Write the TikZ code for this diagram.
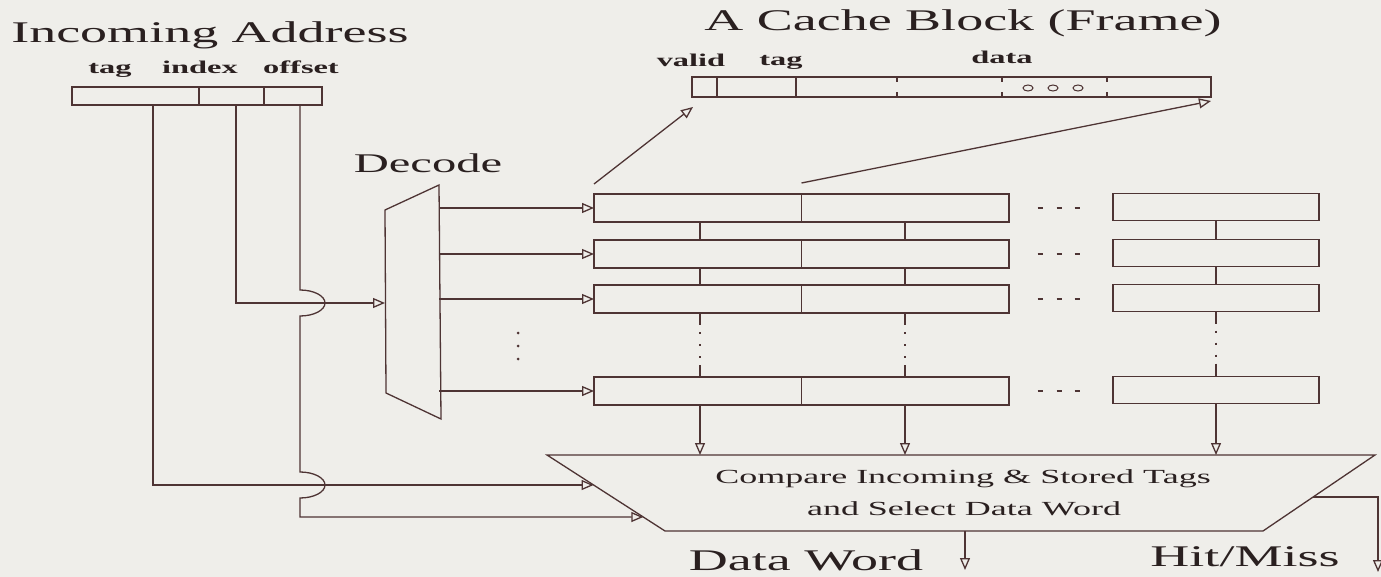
\documentclass[tikz,border=0pt]{standalone}
\usepackage{fontspec}
\setmainfont{Liberation Serif}[FakeStretch=1.8]
\usetikzlibrary{arrows.meta,calc}
\definecolor{bg}{HTML}{EFEEEA}
\definecolor{ln}{HTML}{4E3434}
\definecolor{tx}{HTML}{2A2020}
\begin{document}
\begin{tikzpicture}[x=1pt,y=-1pt,color=ln,line width=1.3pt,
  box/.style={draw=ln,inner sep=0pt,outer sep=0pt},
  rowbox/.style={box,minimum width=415pt,minimum height=28pt},
  rbox/.style={box,minimum width=206pt,minimum height=27pt},
  arr/.style={-{Triangle[open,length=12pt,width=10pt]}},
  lbl/.style={text=tx,inner sep=0pt,anchor=base},
  big/.style={lbl,font=\fontsize{30pt}{36pt}\selectfont},
  small/.style={lbl,font=\fontsize{18pt}{22pt}\selectfont\bfseries},
  cmptext/.style={lbl,font=\fontsize{20pt}{24pt}\selectfont},
  dotted4/.style={dash pattern=on 12pt off 7pt on 2pt off 10pt on 2pt off 10pt on 2pt off 7pt on 12pt off 0pt}]
\fill[bg] (0,0) rectangle (1381,577);
\useasboundingbox (0,0) rectangle (1381,577);

% ---- titles
\node[big] (tin) at (210,43) {Incoming Address};
\node[big] (tcb) at (963,31) {A Cache Block (Frame)};
\node[lbl,font=\fontsize{27pt}{30pt}\selectfont] (tdec) at (428,173) {Decode};

% ---- incoming address
\node[box,minimum width=127pt,minimum height=18pt,anchor=north west] (ftag) at (72,87) {};
\node[box,minimum width=65pt,minimum height=18pt,anchor=west] (fidx) at (ftag.east) {};
\node[box,minimum width=58pt,minimum height=18pt,anchor=west] (foff) at (fidx.east) {};
\node[small] (ltag) at (110,74) {tag};
\node[small] (lidx) at (200,74) {index};
\node[small] (loff) at (301,74) {offset};
\coordinate (tx) at (153,105);
\coordinate (ix) at (236,105);
\coordinate (ox) at (300,105);

% ---- decoder
\coordinate (d1) at (385,210);
\coordinate (d2) at (439,185);
\coordinate (d3) at (441,419);
\coordinate (d4) at (386,393);
\draw (d1) -- (d2) -- (d3) -- (d4) -- cycle;
\coordinate (din) at (385,303);
\foreach \yy in {333,346,359} \fill[ln] (518,\yy) circle (1.5);

% ---- compare unit
\coordinate (c1) at (547,455);
\coordinate (c2) at (1375,455);
\coordinate (c3) at (1263,531);
\coordinate (c4) at (665,531);
\draw (c1) -- (c2) -- (c3) -- (c4) -- cycle;
\coordinate (cmpA) at ($(c1)!0.395!(c4)$);
\coordinate (cmpB) at ($(c1)!0.816!(c4)$);
\node[cmptext] (cl1) at (963,483) {Compare Incoming \& Stored Tags};
\node[cmptext] (cl2) at (964,515) {and Select Data Word};

% ---- address connections
\draw[arr] (tx) |- (cmpA);
\draw[arr] (ix) |- (din);
\draw[arr] (ox) -- (300,290) arc[start angle=-90,end angle=90,x radius=25,y radius=13]
  -- (300,472) arc[start angle=-90,end angle=90,x radius=25,y radius=13] |- (cmpB);

% ---- cache rows
\node[rowbox] (r1) at (801.5,208) {};
\node[rowbox] (r2) at (801.5,254) {};
\node[rowbox] (r3) at (801.5,299) {};
\node[rowbox] (r4) at (801.5,391) {};
\node[rbox] (s1) at (1216,207) {};
\node[rbox] (s2) at (1216,253) {};
\node[rbox] (s3) at (1216,298) {};
\node[rbox] (s4) at (1216,390) {};
\foreach \r in {r1,r2,r3,r4} {
  \draw (\r.north) -- (\r.south);
  \draw[arr] (\r.west -| d2) -- (\r.west);
  \foreach \xx in {1040,1059,1077} \draw[line width=1.8pt] ($(\r.east -| \xx,0)+(-2.5,0)$) -- ++(5,0);
}
\coordinate (ca) at (700,0);
\coordinate (cb) at (905,0);
\coordinate (cc) at (1216,0);
\foreach \cx in {ca,cb} {
  \draw (r1.south -| \cx) -- (r2.north -| \cx);
  \draw (r2.south -| \cx) -- (r3.north -| \cx);
  \draw[dotted4,line width=1.6pt] (r3.south -| \cx) -- (r4.north -| \cx);
  \draw[arr] (r4.south -| \cx) -- (\cx |- c1);
}
\draw (s1.south) -- (s2.north);
\draw (s2.south) -- (s3.north);
\draw[dotted4,line width=1.6pt] (s3.south) -- (s4.north);
\draw[arr] (s4.south) -- (cc |- c1);

% ---- cache block (frame)
\node[box,minimum width=519pt,minimum height=20pt] (blk) at (951.5,87) {};
\coordinate (v1) at (717,0);
\coordinate (v2) at (796,0);
\draw (blk.north -| v1) -- (blk.south -| v1);
\draw (blk.north -| v2) -- (blk.south -| v2);
\foreach \xx in {897,1002,1107} {
  \draw ($(blk.north -| \xx,0)$) -- ++(0,5);
  \draw ($(blk.south -| \xx,0)$) -- ++(0,-5);
}
\foreach \xx in {1028,1053,1078} \draw[line width=1pt] (\xx,88) ellipse[x radius=5,y radius=3];
\node[small] (lval) at (691,67) {valid};
\node[small] (ltg2) at (781,66) {tag};
\node[small] (ldat) at (1002,64) {data};
\draw[arr] ($(r1.north west)+(0,-10)$) -- ($(blk.south west)+(1,10)$);
\draw[arr] ($(r1.north)+(0,-11)$) -- ($(blk.south east)+(0,4)$);

% ---- outputs
\coordinate (dw) at (965,0);
\coordinate (dwend) at (965,570);
\draw[arr] (dw |- c4) -- (dwend);
\node[big] (tdw) at (806,570) {Data Word};
\coordinate (hm) at ($(c2)!0.553!(c3)$);
\coordinate (hmend) at (1378,572);
\draw[arr] (hm) -| (hmend);
\node[big] (thm) at (1245,566) {Hit/Miss};
\end{tikzpicture}
\end{document}
